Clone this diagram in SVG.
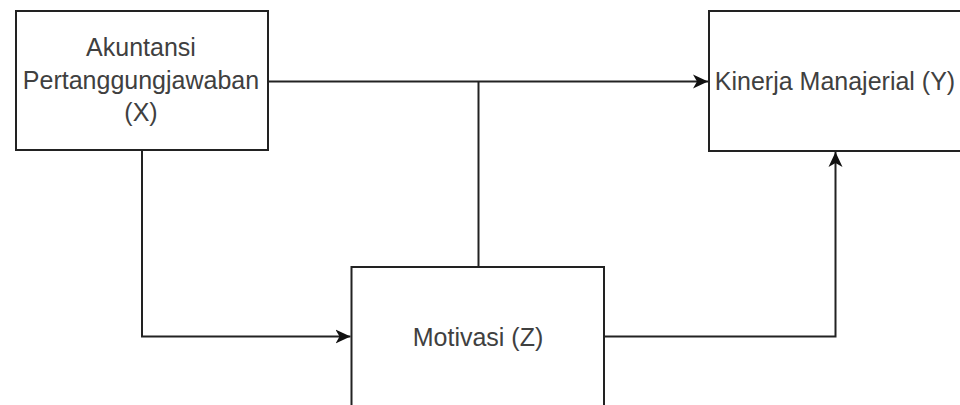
<svg xmlns="http://www.w3.org/2000/svg" width="960" height="405" viewBox="0 0 960 405">
<style>
.box{fill:#ffffff;stroke:#222222;stroke-width:2}
.edge{fill:none;stroke:#222222;stroke-width:2}
.lbl{font-family:"Liberation Sans",Arial,sans-serif;font-size:25px;fill:#404040;text-anchor:middle}
</style>
<defs>
<marker id="arr" viewBox="0 0 16 16" refX="15" refY="8" markerWidth="16" markerHeight="16" markerUnits="userSpaceOnUse" orient="auto">
<path d="M0,1 L15,8 L0,15 L4,8 Z" fill="#111111"/>
</marker>
</defs>
<rect width="960" height="405" fill="#ffffff"/>
<g id="connectors">
<path class="edge" d="M268,81.5 L708,81.5" marker-end="url(#arr)"/>
<path class="edge" d="M478.5,267 L478.5,81.5"/>
<path class="edge" d="M142,150 L142,336.5 L350.5,336.5" marker-end="url(#arr)"/>
<path class="edge" d="M604,336.5 L835.5,336.5 L835.5,152" marker-end="url(#arr)"/>
</g>
<g id="node-x">
<rect class="box" x="16" y="11" width="252" height="139"/>
<text class="lbl" x="141" y="56">Akuntansi</text>
<text class="lbl" x="141" y="88.5">Pertanggungjawaban</text>
<text class="lbl" x="141" y="121">(X)</text>
</g>
<g id="node-y">
<rect class="box" x="709" y="11" width="254" height="140"/>
<text class="lbl" x="835" y="89.5">Kinerja Manajerial (Y)</text>
</g>
<g id="node-z">
<rect class="box" x="351.5" y="267" width="252.5" height="150"/>
<text class="lbl" x="478" y="346">Motivasi (Z)</text>
</g>
</svg>
